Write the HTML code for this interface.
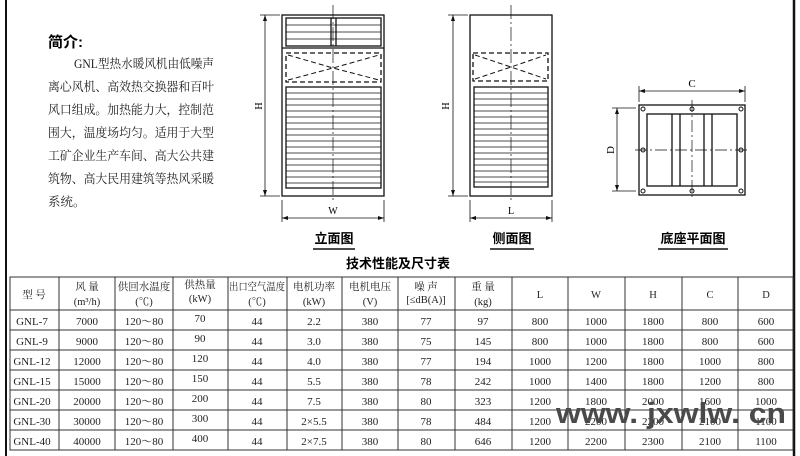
<!DOCTYPE html>
<html><head><meta charset="utf-8"><style>
body{margin:0;background:#fff;}
svg{display:block;font-family:"Liberation Serif","Noto Serif CJK SC","Noto Sans CJK SC",serif;}
</style></head><body>
<svg width="800" height="456" viewBox="0 0 800 456" xmlns="http://www.w3.org/2000/svg">
<rect width="800" height="456" fill="#fff"/>
<line x1="6" y1="0" x2="6" y2="456" stroke="#111" stroke-width="2"/>
<line x1="794" y1="0" x2="794" y2="456" stroke="#111" stroke-width="2.5"/>
<!-- intro -->
<text x="48" y="47" font-size="15" font-weight="bold" font-family="Liberation Sans,Noto Sans CJK SC,sans-serif">简介:</text>
<g font-size="12.5" fill="#222" font-family="Liberation Serif,Noto Serif CJK SC,serif" lengthAdjust="spacingAndGlyphs">
<text x="74" y="68" textLength="140" lengthAdjust="spacingAndGlyphs">GNL型热水暖风机由低噪声</text>
<text x="48" y="91" textLength="166" lengthAdjust="spacingAndGlyphs">离心风机、高效热交换器和百叶</text>
<text x="48" y="114" textLength="166" lengthAdjust="spacingAndGlyphs">风口组成。加热能力大，控制范</text>
<text x="48" y="137" textLength="166" lengthAdjust="spacingAndGlyphs">围大，温度场均匀。适用于大型</text>
<text x="48" y="160" textLength="166" lengthAdjust="spacingAndGlyphs">工矿企业生产车间、高大公共建</text>
<text x="48" y="183" textLength="166" lengthAdjust="spacingAndGlyphs">筑物、高大民用建筑等热风采暖</text>
<text x="48" y="206">系统。</text>
</g>
<!-- front view -->
<g stroke="#111" fill="none" stroke-width="1.3">
<rect x="282" y="15" width="102" height="181"/>
<rect x="286" y="18" width="95" height="28"/>
<line x1="282" y1="48" x2="384" y2="48"/>
<line x1="331" y1="18" x2="331" y2="46"/><line x1="336" y1="18" x2="336" y2="46"/>
<g stroke-width="0.8"><line x1="286" y1="25" x2="381" y2="25"/><line x1="286" y1="32" x2="381" y2="32"/><line x1="286" y1="39" x2="381" y2="39"/></g>
<rect x="286" y="53" width="95" height="29" stroke-dasharray="5,3"/>
<path d="M288 55 L333 68 L379 55 M288 80 L333 68 L379 80" stroke-dasharray="5,3" stroke-width="1"/>
<rect x="286" y="87" width="95" height="101"/>
<line x1="333" y1="5" x2="333" y2="200" stroke-width="0.7" stroke-dasharray="14,3,2,3"/>
<g stroke-width="0.8">
<line x1="286" y1="93" x2="381" y2="93"/><line x1="286" y1="99" x2="381" y2="99"/><line x1="286" y1="105" x2="381" y2="105"/><line x1="286" y1="111" x2="381" y2="111"/><line x1="286" y1="117" x2="381" y2="117"/><line x1="286" y1="123" x2="381" y2="123"/><line x1="286" y1="129" x2="381" y2="129"/><line x1="286" y1="135" x2="381" y2="135"/><line x1="286" y1="141" x2="381" y2="141"/><line x1="286" y1="147" x2="381" y2="147"/><line x1="286" y1="153" x2="381" y2="153"/><line x1="286" y1="159" x2="381" y2="159"/><line x1="286" y1="165" x2="381" y2="165"/><line x1="286" y1="171" x2="381" y2="171"/><line x1="286" y1="177" x2="381" y2="177"/><line x1="286" y1="183" x2="381" y2="183"/>
</g>
<g stroke-width="0.8">
<line x1="265" y1="15" x2="265" y2="196"/><line x1="260" y1="15" x2="280" y2="15"/><line x1="260" y1="196" x2="280" y2="196"/>
<line x1="282" y1="218" x2="384" y2="218"/><line x1="282" y1="200" x2="282" y2="222"/><line x1="384" y1="200" x2="384" y2="222"/>
</g>
</g>
<path d="M265 15 l-2 6 h4z M265 196 l-2 -6 h4z M282 218 l6 -2 v4z M384 218 l-6 -2 v4z" fill="#111"/>
<text x="262" y="106" font-size="10" transform="rotate(-90 262 106)" text-anchor="middle">H</text>
<text x="333" y="214" font-size="10" text-anchor="middle">W</text>
<!-- side view -->
<g stroke="#111" fill="none" stroke-width="1.3">
<rect x="470" y="15" width="82" height="181"/>
<rect x="473" y="53" width="75" height="28" stroke-dasharray="5,3"/>
<path d="M475 55 L511 67 L546 55 M475 79 L511 67 L546 79" stroke-dasharray="5,3" stroke-width="1"/>
<rect x="474" y="87" width="74" height="100"/>
<line x1="511" y1="5" x2="511" y2="200" stroke-width="0.7" stroke-dasharray="14,3,2,3"/>
<g stroke-width="0.8">
<line x1="474" y1="93" x2="548" y2="93"/><line x1="474" y1="99" x2="548" y2="99"/><line x1="474" y1="105" x2="548" y2="105"/><line x1="474" y1="111" x2="548" y2="111"/><line x1="474" y1="117" x2="548" y2="117"/><line x1="474" y1="123" x2="548" y2="123"/><line x1="474" y1="129" x2="548" y2="129"/><line x1="474" y1="135" x2="548" y2="135"/><line x1="474" y1="141" x2="548" y2="141"/><line x1="474" y1="147" x2="548" y2="147"/><line x1="474" y1="153" x2="548" y2="153"/><line x1="474" y1="159" x2="548" y2="159"/><line x1="474" y1="165" x2="548" y2="165"/><line x1="474" y1="171" x2="548" y2="171"/><line x1="474" y1="177" x2="548" y2="177"/><line x1="474" y1="182" x2="548" y2="182"/>
</g>
<g stroke-width="0.8">
<line x1="453" y1="15" x2="453" y2="196"/><line x1="448" y1="15" x2="468" y2="15"/><line x1="448" y1="196" x2="468" y2="196"/>
<line x1="470" y1="218" x2="552" y2="218"/><line x1="470" y1="200" x2="470" y2="222"/><line x1="552" y1="200" x2="552" y2="222"/>
</g>
</g>
<path d="M453 15 l-2 6 h4z M453 196 l-2 -6 h4z M470 218 l6 -2 v4z M552 218 l-6 -2 v4z" fill="#111"/>
<text x="449" y="106" font-size="10" transform="rotate(-90 449 106)" text-anchor="middle">H</text>
<text x="511" y="214" font-size="10" text-anchor="middle">L</text>
<!-- base plan -->
<g stroke="#111" fill="none" stroke-width="1.3">
<rect x="639" y="105" width="106" height="90"/>
<rect x="647" y="114" width="90" height="72"/>
<line x1="672" y1="114" x2="672" y2="186"/><line x1="680" y1="114" x2="680" y2="186"/>
<line x1="704" y1="114" x2="704" y2="186"/><line x1="712" y1="114" x2="712" y2="186"/>
<g stroke-width="0.7" stroke-dasharray="12,3,2,3"><line x1="635" y1="150" x2="750" y2="150"/><line x1="692" y1="100" x2="692" y2="200"/></g>
<g stroke-width="1"><circle cx="643" cy="109" r="2"/><circle cx="692" cy="109" r="2"/><circle cx="741" cy="109" r="2"/><circle cx="643" cy="150" r="2"/><circle cx="741" cy="150" r="2"/><circle cx="643" cy="191" r="2"/><circle cx="692" cy="191" r="2"/><circle cx="741" cy="191" r="2"/></g>
<g stroke-width="0.8">
<line x1="639" y1="91" x2="745" y2="91"/><line x1="639" y1="86" x2="639" y2="102"/><line x1="745" y1="86" x2="745" y2="102"/>
<line x1="617" y1="108" x2="617" y2="191"/><line x1="612" y1="108" x2="636" y2="108"/><line x1="612" y1="191" x2="636" y2="191"/>
</g>
</g>
<path d="M639 91 l6 -2 v4z M745 91 l-6 -2 v4z M617 108 l-2 6 h4z M617 191 l-2 -6 h4z" fill="#111"/>
<text x="692" y="87" font-size="11" text-anchor="middle">C</text>
<text x="614" y="150" font-size="11" transform="rotate(-90 614 150)" text-anchor="middle">D</text>
<!-- captions -->
<g font-size="13" font-weight="bold" font-family="Liberation Sans,Noto Sans CJK SC,sans-serif" text-anchor="middle">
<text x="334" y="243">立面图</text><text x="512" y="243">侧面图</text><text x="693" y="243">底座平面图</text>
<text x="398" y="268">技术性能及尺寸表</text>
</g>
<g stroke="#111" stroke-width="1.5"><line x1="313" y1="249" x2="355" y2="249"/><line x1="490" y1="249" x2="534" y2="249"/><line x1="658" y1="249" x2="728" y2="249"/></g>
<!-- table -->
<g stroke="#333" stroke-width="1" fill="none">
<rect x="10" y="277" width="783" height="173"/>
<line x1="10" y1="310" x2="793" y2="310"/>
<line x1="10" y1="330" x2="793" y2="330"/><line x1="10" y1="350" x2="793" y2="350"/><line x1="10" y1="370" x2="793" y2="370"/><line x1="10" y1="390" x2="793" y2="390"/><line x1="10" y1="410" x2="793" y2="410"/><line x1="10" y1="430" x2="793" y2="430"/>
<line x1="59" y1="277" x2="59" y2="450"/><line x1="115" y1="277" x2="115" y2="450"/><line x1="173" y1="277" x2="173" y2="450"/><line x1="228" y1="277" x2="228" y2="450"/><line x1="287" y1="277" x2="287" y2="450"/><line x1="342" y1="277" x2="342" y2="450"/><line x1="398" y1="277" x2="398" y2="450"/><line x1="455" y1="277" x2="455" y2="450"/><line x1="512" y1="277" x2="512" y2="450"/><line x1="568" y1="277" x2="568" y2="450"/><line x1="625" y1="277" x2="625" y2="450"/><line x1="682" y1="277" x2="682" y2="450"/><line x1="738" y1="277" x2="738" y2="450"/>
</g>
<g font-size="10.5" fill="#222" text-anchor="middle">
<text x="34" y="298">型 号</text>
<text x="87" y="290">风 量</text><text x="87" y="305">(m³/h)</text>
<text x="144" y="290">供回水温度</text><text x="144" y="305">(℃)</text>
<text x="200" y="288">供热量</text><text x="200" y="302">(kW)</text>
<text x="257" y="290" textLength="56" lengthAdjust="spacingAndGlyphs">出口空气温度</text><text x="257" y="305">(℃)</text>
<text x="314" y="290">电机功率</text><text x="314" y="305">(kW)</text>
<text x="370" y="290">电机电压</text><text x="370" y="305">(V)</text>
<text x="426" y="290">噪 声</text><text x="426" y="303">[≤dB(A)]</text>
<text x="483" y="290">重 量</text><text x="483" y="305">(kg)</text>
<text x="540" y="298">L</text><text x="596" y="298">W</text><text x="653" y="298">H</text><text x="710" y="298">C</text><text x="766" y="298">D</text>
</g>
<g font-size="11" fill="#222" text-anchor="middle">
<g transform="translate(0,325)"><text x="32">GNL-7</text><text x="87">7000</text><text x="144">120～80</text><text x="200" y="-3">70</text><text x="257">44</text><text x="314">2.2</text><text x="370">380</text><text x="426">77</text><text x="483">97</text><text x="540">800</text><text x="596">1000</text><text x="653">1800</text><text x="710">800</text><text x="766">600</text></g>
<g transform="translate(0,345)"><text x="32">GNL-9</text><text x="87">9000</text><text x="144">120～80</text><text x="200" y="-3">90</text><text x="257">44</text><text x="314">3.0</text><text x="370">380</text><text x="426">75</text><text x="483">145</text><text x="540">800</text><text x="596">1000</text><text x="653">1800</text><text x="710">800</text><text x="766">600</text></g>
<g transform="translate(0,365)"><text x="32">GNL-12</text><text x="87">12000</text><text x="144">120～80</text><text x="200" y="-3">120</text><text x="257">44</text><text x="314">4.0</text><text x="370">380</text><text x="426">77</text><text x="483">194</text><text x="540">1000</text><text x="596">1200</text><text x="653">1800</text><text x="710">1000</text><text x="766">800</text></g>
<g transform="translate(0,385)"><text x="32">GNL-15</text><text x="87">15000</text><text x="144">120～80</text><text x="200" y="-3">150</text><text x="257">44</text><text x="314">5.5</text><text x="370">380</text><text x="426">78</text><text x="483">242</text><text x="540">1000</text><text x="596">1400</text><text x="653">1800</text><text x="710">1200</text><text x="766">800</text></g>
<g transform="translate(0,405)"><text x="32">GNL-20</text><text x="87">20000</text><text x="144">120～80</text><text x="200" y="-3">200</text><text x="257">44</text><text x="314">7.5</text><text x="370">380</text><text x="426">80</text><text x="483">323</text><text x="540">1200</text><text x="596">1800</text><text x="653">2000</text><text x="710">1600</text><text x="766">1000</text></g>
<g transform="translate(0,425)"><text x="32">GNL-30</text><text x="87">30000</text><text x="144">120～80</text><text x="200" y="-3">300</text><text x="257">44</text><text x="314">2×5.5</text><text x="370">380</text><text x="426">78</text><text x="483">484</text><text x="540">1200</text><text x="596">2200</text><text x="653">2200</text><text x="710">2100</text><text x="766">1100</text></g>
<g transform="translate(0,445)"><text x="32">GNL-40</text><text x="87">40000</text><text x="144">120～80</text><text x="200" y="-3">400</text><text x="257">44</text><text x="314">2×7.5</text><text x="370">380</text><text x="426">80</text><text x="483">646</text><text x="540">1200</text><text x="596">2200</text><text x="653">2300</text><text x="710">2100</text><text x="766">1100</text></g>
</g>
<text x="556" y="423" font-size="29" font-weight="bold" fill="#4a4a4a" textLength="230" lengthAdjust="spacingAndGlyphs" font-family="Liberation Sans,sans-serif">www. jxwlw. cn</text>
</svg>
</body></html>
